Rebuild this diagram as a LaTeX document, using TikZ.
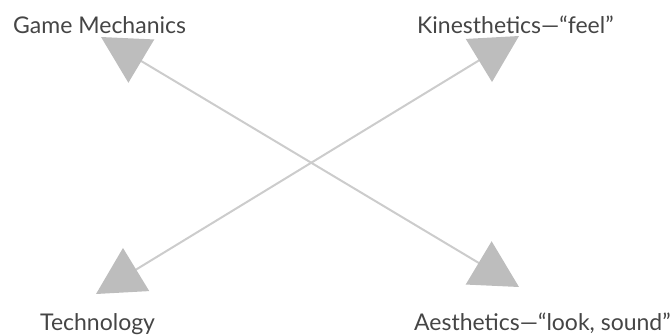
\documentclass[tikz,border=0pt]{standalone}
\usepackage{fontspec}
\setmainfont{Lato}
\usetikzlibrary{arrows.meta}
\definecolor{linegray}{HTML}{CCCCCC}
\definecolor{headgray}{HTML}{BDBDBD}
\definecolor{textgray}{HTML}{454545}
\tikzset{
  lbl/.style={anchor=base west, inner sep=0pt, text=textgray, font=\fontsize{23}{26}\selectfont},
  dblarrow/.style={draw=linegray, line width=2pt, {Triangle[length=47pt,width=50pt,color=headgray,fill=headgray]}-{Triangle[length=47pt,width=50pt,color=headgray,fill=headgray]}}
}
\begin{document}
\begin{tikzpicture}[x=1pt,y=-1pt]
\useasboundingbox (0,0) rectangle (671,335);
\node[lbl] (gm) at (13,33) {Game Mechanics};
\node[lbl] (kin) at (417,33) {Kinesthetics—“feel”};
\node[lbl] (tech) at (40,330) {Technology};
\node[lbl] (aes) at (414,330) {Aesthetics—“look, sound”};
\coordinate (tl) at (101,37);
\coordinate (br) at (519,287);
\coordinate (tr) at (519,36);
\coordinate (bl) at (96,294);
\draw[dblarrow] (tl) -- (br);
\draw[dblarrow] (bl) -- (tr);
\end{tikzpicture}
\end{document}
